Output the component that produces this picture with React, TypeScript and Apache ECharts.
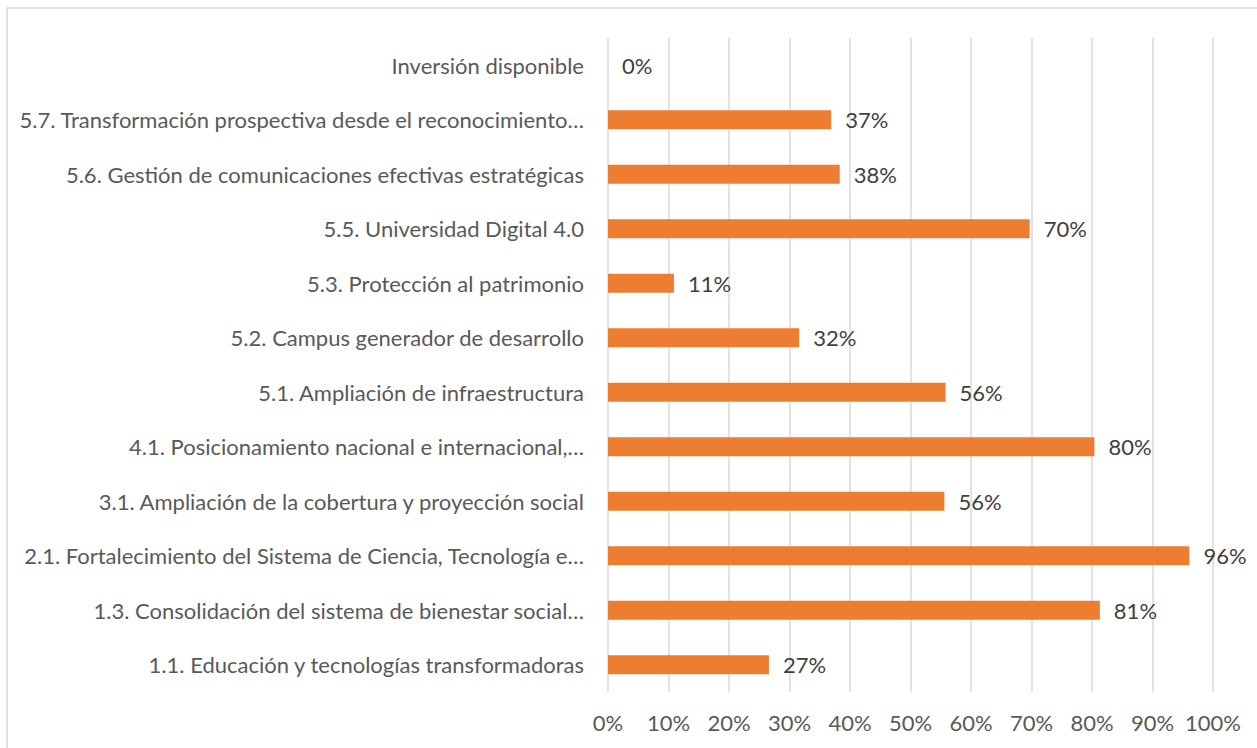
import React, { useEffect, useRef } from "react";
import * as echarts from "echarts";

const categories = [
  "1.1. Educación y tecnologías transformadoras",
  "1.3. Consolidación del sistema de bienestar social…",
  "2.1. Fortalecimiento del Sistema de Ciencia, Tecnología e…",
  "3.1. Ampliación de la cobertura y proyección social",
  "4.1. Posicionamiento nacional e internacional,…",
  "5.1. Ampliación de infraestructura",
  "5.2. Campus generador de desarrollo",
  "5.3. Protección al patrimonio",
  "5.5. Universidad Digital 4.0",
  "5.6. Gestión de comunicaciones efectivas estratégicas",
  "5.7. Transformación prospectiva desde el reconocimiento…",
  "Inversión disponible",
];

const values = [0.266, 0.813, 0.961, 0.556, 0.804, 0.558, 0.316, 0.109, 0.697, 0.383, 0.369, 0];

const xTicks = [0, 0.1, 0.2, 0.3, 0.4, 0.5, 0.6, 0.7, 0.8, 0.9, 1.0];

export default function App() {
  const ref = useRef<HTMLDivElement>(null);
  useEffect(() => {
    if (!ref.current) return;
    const chart = echarts.init(ref.current, null, { renderer: "svg" });
    const font = "Lato, 'Open Sans', sans-serif";
    const fs = 22;
    chart.setOption({
      animation: false,
      backgroundColor: "#ffffff",
      textStyle: { fontFamily: font },
      graphic: [
        {
          type: "rect",
          shape: { x: 7, y: 8, width: 1400, height: 900 },
          style: { fill: "none", stroke: "#d9d9d9", lineWidth: 1.5 },
          silent: true,
        },
      ],
      grid: { left: 608, right: 44, top: 38, bottom: 56, containLabel: false },
      xAxis: {
        type: "value",
        min: xTicks[0],
        max: xTicks[xTicks.length - 1],
        interval: 0.1,
        axisLine: { show: false },
        axisTick: { show: false },
        splitLine: { show: true, lineStyle: { color: "#d9d9d9", width: 1.5 } },
        axisLabel: {
          color: "#595959",
          fontSize: fs,
          fontFamily: font,
          margin: 19,
          formatter: (v: number) => Math.round(v * 100) + "%",
        },
      },
      yAxis: {
        type: "category",
        data: categories,
        axisLine: { show: false },
        axisTick: { show: false },
        axisLabel: {
          color: "#595959",
          fontSize: fs,
          fontFamily: font,
          margin: 24,
        },
      },
      series: [
        {
          type: "bar",
          data: values,
          barWidth: 19,
          itemStyle: { color: "#ed7d31" },
          label: {
            show: true,
            position: "right",
            distance: 14,
            color: "#404040",
            fontSize: fs,
            fontFamily: font,
            formatter: (p: any) => Math.round(p.value * 100) + "%",
          },
        },
      ],
    });
    return () => chart.dispose();
  }, []);
  return (
    <div
      ref={ref}
      style={{ position: "fixed", left: 0, top: 0, width: 1257, height: 748 }}
    />
  );
}
